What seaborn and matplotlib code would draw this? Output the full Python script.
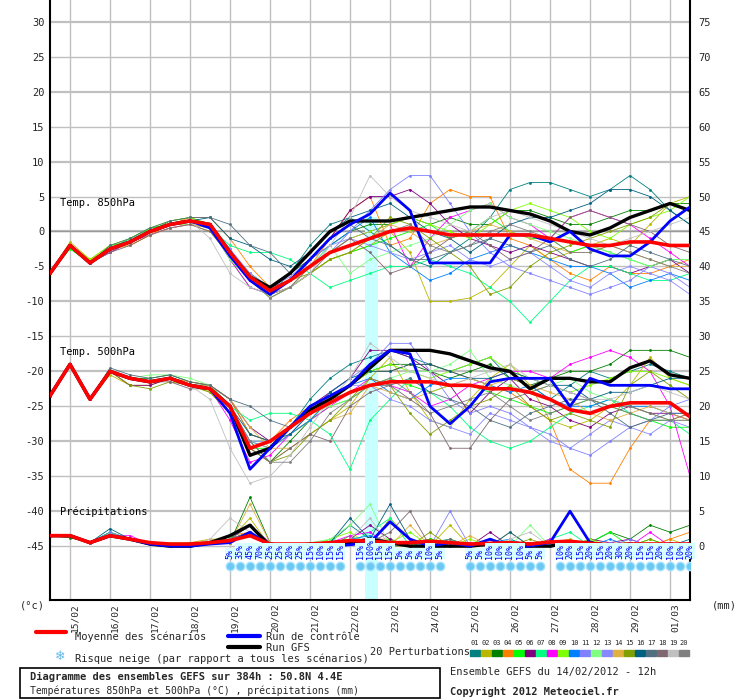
import numpy as np
import pandas as pd
import matplotlib
matplotlib.use("Agg")
import matplotlib.pyplot as plt
import seaborn as sns
from matplotlib.patches import Rectangle

sns.set_theme(style="white")
plt.rcParams['font.family'] = ['DejaVu Sans Mono']

hours = list(range(0, 385, 12))
dates = ["15/02","16/02","17/02","18/02","19/02","20/02","21/02","22/02","23/02",
         "24/02","25/02","26/02","27/02","28/02","29/02","01/03"]

mean850 = [-6,-2,-4.5,-2.5,-1.5,0,1,1.5,1,-3,-6.5,-8.5,-7,-5,-3,-2,-1,0,0.5,0,-0.5,-0.5,-0.5,-0.5,-0.5,-1,-1.5,-2,-2,-1.5,-1.5,-2,-2]
gfs850 = [-6,-2,-4.5,-2.5,-1.5,0,1,1.5,1,-3,-6.5,-8,-6,-3,0,1.5,1.5,1.5,2,2.5,3,3.5,3.5,3,2.5,1.5,0,-0.5,0.5,2,3,4,3]
ctrl850 = [-6,-2,-4.5,-2.5,-1.5,0,1,1.5,0.5,-3.5,-7,-9,-7,-4,-1,1,2.5,5.5,3,-4.5,-4.5,-4.5,-4.5,-0.5,-0.5,-1.5,0,-2.5,-3.5,-3.5,-1.5,1.5,3.5]

p850 = [
[-6,-2,-4.5,-2.5,-1,0.5,1,1.5,1,-2.5,-7,-9,-6,-2,1,2,0,-2,-4,-5,-3,-1,2,6,7,7,6,5,6,8,6,3,1],
[-6,-1.5,-4,-2,-1.5,0,1,1,0,-3.5,-7,-9.5,-8,-6,-4,-3,-2,0,-3,-10,-10,-9.5,-8,-5,-2,-4,-3,-2,-1,-2,1,4,5],
[-6,-2,-4.5,-3,-1.5,0,1.5,2,1,-3,-6,-8,-6,-4,-2,0,1,1,2,1,2,1,1,3,3,2,1,1,2,3,3,4,4],
[-6,-2,-4,-2.5,-2,-0.5,1,2,2,-1,-5,-8,-7,-5,-1,3,5,-2,-1,4,6,5,5,-1,-2,-4,-6,-7,-5,-6,-6,-5,-4],
[-6,-2.5,-4.5,-2,-1.5,0.5,1,1.5,0.5,-4,-8,-9,-8,-6,-4,-3,-2,-1,0,1,-1,0,2,0,-1,-1,-3,-2,-3,-4,-5,-4,-4],
[-6,-2,-4.5,-2.5,-1.5,0,1,1.5,1,-3,-7,-9,-7,-4,-1,3,5,5,6,4,1,-1,-2,-3,-2,-3,-4,-5,-5,-6,-5,-4,-6],
[-6,-2,-4.5,-2.5,-1,0,1,1.5,0.5,-2,-3,-3,-4,-6,-8,-7,-6,-5,-5,-4,-5,-6,-8,-10,-13,-10,-7,-5,-5,-6,-7,-7,-6],
[-6,-2,-4.5,-3,-1.5,-0.5,0.5,1,0.5,-4,-8,-9,-8,-5,-3,-1,0,1,-5,-1,2,3,4,2,1,-1,2,3,2,1,-1,-3,-5],
[-6,-2,-4,-2,-1,0.5,1.5,2,1,-3,-6,-9.5,-8,-5,-3,-1,0,1,2,1,0,-1,1,3,4,3,2,0,-1,1,2,3,5],
[-6,-2,-4.5,-2.5,-1.5,0,1,1.5,0.5,-3.5,-7,-8,-7,-5,-2,0,2,-3,-5,-7,-6,-4,-3,-2,-3,-4,-5,-5,-6,-8,-7,-6,-7],
[-6,-2,-4.5,-2.5,-1.5,0,1,1.5,1,-3,-6.5,-8.5,-7,-5,-3,0,3,6,8,8,4,0,-3,-5,-6,-7,-8,-9,-8,-7,-5,-6,-8],
[-6,-2,-4.5,-2.5,-1.5,0,1,1,0.5,-4,-7,-9,-7,-5,-2,-6,-4,-3,-2,-1,1,3,4,2,1,0,-1,-2,-3,-4,-5,-4,-4],
[-6,-2,-4.5,-2.5,-1.5,0,1,1.5,1,-2.5,-6,-8,-6.5,-4,-2,-1,-2,-3,-4,-3,-2,-4,-5,-4,-3,-5,-7,-8,-6,-5,-6,-7,-9],
[-6,-2,-4.5,-2.5,-2,-0.5,0.5,1,0.5,-3.5,-7,-9,-8,-6,-4,-3,-1,1,0,-2,-1,0,1,0,-1,-2,-3,-3,-2,-3,-4,-5,-5],
[-6,-2,-4.5,-2.5,-1.5,0,1,1.5,1,-3,-6.5,-9,-7,-6,-4,-3,-1,2,1,-1,-3,-5,-9,-8,-5,-3,-2,-1,0,1,2,4,3],
[-6,-2,-4.5,-2.5,-1.5,0,1,1.5,2,-1,-2,-4,-5,-3,0,2,3,4,2,0,-1,-3,-1,1,2,2,3,4,6,6,5,3,1],
[-6,-2,-4.5,-2,-1,0.5,1.5,2,2,1,-2,-3,-6,-4,-1,1,-1,-2,-4,-4,-3,-2,-1,-2,-3,-2,-4,-5,-4,-2,-3,-4,-5],
[-6,-2,-4.5,-3,-2,-0.5,0.5,1,0,-3.5,-7,-9,-8,-6,-3,-1,-3,-6,-5,-3,-1,0,-2,-4,-3,-1,2,3,2,1,0,-2,-3],
[-6,-2,-4.5,-2.5,-1.5,0,1,1.5,-1,-6,-8,-9,-8,-6,-2,2,8,5,3,2,1,0,2,3,2,1,0,-1,-2,-1,0,1,2],
[-6,-2,-4.5,-2.5,-1.5,0,1,1.5,1,-3,-7,-9.5,-8,-5,-3,-2,-1,0,1,-2,-3,-2,0,1,0,-1,-3,-3,-2,-3,-4,-5,-6],
]

mean500 = [-23.5,-19,-24,-20,-21,-21.5,-21,-22,-22.5,-25,-31,-30,-28,-26,-24.5,-23,-22,-21.5,-21.5,-21.5,-22,-22,-22.5,-22.5,-23,-24,-25.5,-26,-25,-24.5,-24.5,-24.5,-26.5]
gfs500 = [-23.5,-19,-24,-20,-21,-21.5,-21,-22,-22.5,-25,-32,-31,-28,-25.5,-24,-22,-19.5,-17,-17,-17,-17.5,-18.5,-19.5,-20,-22.5,-21,-21,-21.5,-21.5,-19.5,-18.5,-20.5,-21]
ctrl500 = [-23.5,-19,-24,-20,-21,-21.5,-21,-22,-22.5,-26,-34,-31,-28,-25,-23.5,-22,-19,-17,-17.5,-25,-27.5,-25,-21.5,-21,-21,-21,-25,-21,-22,-22,-22,-22.5,-22.5]

p500 = [
[-23.5,-19,-24,-20,-21,-21.5,-21,-22,-22,-24,-29,-30,-28,-24,-21,-19,-18,-17,-18,-19,-20,-19,-18,-21,-22,-24,-22,-20,-21,-20,-19,-20,-21],
[-23.5,-19,-24,-20.5,-22,-22,-21,-22,-23,-26,-31,-33,-31,-29,-27,-25,-21,-18,-23,-27,-28,-24,-21,-19,-22,-27,-28,-27,-25,-22,-18,-21,-22],
[-23.5,-19,-24,-20,-21,-21,-20.5,-21.5,-22,-25,-30,-33,-30,-27,-24,-22,-20,-19,-19,-20,-21,-20,-19,-21,-22,-21,-20,-20,-19,-17,-17,-17,-18],
[-23.5,-19,-24,-20,-21,-21.5,-21,-21.5,-22,-24,-29,-30,-27,-25,-24,-22,-20,-20,-19,-19,-20,-21,-22,-23,-25,-27,-34,-36,-36,-31,-27,-27,-26],
[-23.5,-19,-24,-20,-21,-21.5,-21,-22,-22.5,-25,-31,-31,-29,-27,-25,-24,-22,-21,-22,-23,-22,-22,-23,-24,-25,-26,-25,-24,-25,-26,-27,-28,-28],
[-23.5,-19,-24,-20,-22,-22,-21,-22,-22,-24,-28,-30,-28,-25,-23,-21,-17,-17,-18,-20,-22,-26,-23,-21,-24,-25,-27,-28,-26,-25,-26,-26,-27],
[-23.5,-19,-24,-20,-21,-21.5,-21,-22,-22,-25,-27,-26,-26,-27,-29,-34,-27,-24,-21,-23,-25,-28,-30,-31,-30,-28,-26,-25,-24,-26,-27,-27,-29],
[-23.5,-19,-24,-20,-21,-21.5,-21,-22,-22.5,-27,-33,-32,-29,-27,-25,-23,-21,-22,-23,-25,-24,-22,-21,-20,-20,-21,-19,-18,-17,-18,-20,-25,-35],
[-23.5,-19,-24,-20,-21,-21.5,-21,-22,-22,-25,-30,-31,-29,-27,-24,-22,-20,-19,-20,-21,-20,-19,-18,-20,-21,-22,-23,-22,-21,-20,-20,-21,-22],
[-23.5,-19,-24,-20,-21,-21.5,-21,-22,-22.5,-26,-32,-31,-29,-27,-24,-22,-21,-23,-24,-22,-21,-21,-22,-23,-22,-24,-25,-25,-24,-25,-25,-26,-26],
[-23.5,-19,-24,-20,-21,-21.5,-21,-22,-22,-25,-30,-31,-29,-26,-23,-21,-19,-16,-16,-20,-24,-26,-25,-26,-28,-29,-31,-32,-30,-28,-27,-25,-24],
[-23.5,-19,-24,-20,-21,-20.5,-20.5,-21,-22,-25,-30,-30,-28,-26,-25,-24,-22,-21,-20,-20,-19,-17,-21,-22,-23,-22,-21,-23,-24,-25,-26,-27,-27],
[-23.5,-19,-24,-20,-21,-21.5,-21,-22,-22.5,-25,-30,-30,-28,-26,-24,-22,-22,-24,-25,-27,-28,-29,-26,-27,-28,-30,-31,-29,-27,-28,-29,-27,-28],
[-23.5,-19,-24,-20,-21,-21.5,-21,-22,-22,-24,-28,-31,-31,-29,-27,-26,-22,-23,-24,-23,-22,-21,-22,-21,-22,-23,-24,-26,-27,-26,-25,-26,-27],
[-23.5,-19,-24,-20,-22,-22.5,-21.5,-22,-23,-26,-31,-33,-32,-29,-27,-24,-21,-22,-26,-29,-27,-25,-24,-22,-25,-27,-26,-27,-28,-22,-20,-22,-24],
[-23.5,-19,-24,-20,-21,-21.5,-21,-22,-22.5,-25,-29,-30,-29,-26,-23,-21,-20,-20,-19,-19,-20,-21,-21,-20,-21,-22,-22,-24,-23,-23,-22,-21,-21],
[-23.5,-19,-24,-19.5,-20.5,-21,-20.5,-21.5,-22,-24,-25,-27,-28,-26,-24,-23,-22,-22,-21,-23,-24,-25,-27,-28,-26,-25,-24,-24,-26,-28,-27,-26,-26],
[-23.5,-19,-24,-20,-21,-21.5,-21.5,-22.5,-22.5,-26,-31,-33,-31,-29,-30,-25,-23,-22,-24,-26,-31,-31,-27,-24,-23,-22,-23,-24,-25,-25,-26,-27,-27],
[-23.5,-19,-24,-20,-21,-21.5,-21,-22,-24,-31,-36,-35,-32,-28,-24,-21,-16,-18,-20,-21,-22,-21,-20,-19,-21,-22,-23,-24,-24,-23,-22,-23,-24],
[-23.5,-19,-24,-20,-21,-21.5,-21,-22,-22.5,-25,-30,-33,-33,-30,-26,-24,-22,-21,-23,-26,-25,-24,-23,-25,-27,-26,-25,-24,-25,-26,-27,-27,-26],
]

meanpr = [1.5,1.5,0.5,1.5,1,0.5,0.3,0.3,0.5,0.8,1.5,0.3,0.3,0.3,0.5,0.8,0.7,0.5,0.5,0.7,0.5,0.3,0.4,0.5,0.3,0.6,0.7,0.4,0.2,0.3,0.3,0.3,0.3]
ctrlpr = [1.5,1.5,0.5,1.5,1,0.3,0,0,0.3,0.5,2,0,0,0,0,0.2,0.5,3.5,1,0,0.5,0,1,0,0,0.5,5,0.5,0,0,0,0,0]
gfspr = [1.5,1.5,0.5,1.5,1,0.3,0,0,0.5,1.5,3,0,0,0,0,0.5,1,0.5,0,0,0,0,0.3,0,0,0,0.5,0.5,0,0,0,0,0]
ppr = [
[1.5,1.5,0.5,2,1,0.3,0,0,0.5,1,2,0.2,0,0,0.5,3,1,0.5,0,0.5,1,0,0,0.5,0,1,0,0,0.5,0,0,0,0],
[1.5,1.5,0.5,1.5,1,0.5,0,0.5,1,1,4,0,0,0,0.5,1,0,4,1,0,3,0,1,0,0,0.5,1,0,0,0,0,1,0],
[1.5,1.2,0.5,1.5,1,0.3,0,0,0.5,0.5,7,0.5,0,0,0.5,1,0.5,0,0.5,1,0,0,1,0,0,0.5,0,0.5,2,1,3,2,3],
[1.5,1.5,0.5,1.5,1,0.3,0,0.3,0.5,1.5,2,0,0,0,0,0.5,1,1,0,0.5,0,0,0,0,0.5,0.5,0,0,0,0.5,0,1,2],
[1.5,1.5,0.5,2,1,0.3,0,0.5,0.5,1,3,0.5,0,0.5,0,1.5,0,1,0,1,0.5,0,0,1,0,0,0,0.5,2,0,1,0,0],
[1.5,1.5,0.5,1.5,1,0.5,0,0,0.5,0.5,2,0,0,0,0.5,1,3,1,0,0.5,0,0,2,0,0,0.5,0,1,0.5,1,0,0,0.5],
[1.5,1.5,0.5,1.5,1,0.3,0,0,0.5,1,2,0.5,0,0,1,0.5,2,4,0,0,1,0,0,0.5,0,1,2,0,0,0,0.5,0,0],
[1.5,1.5,0.5,1.5,1.5,0.3,0,0.5,0.5,1,3,0.5,0,0,0.5,1.5,2,0,0.5,0,0,0.5,0,0,0,1,0,0,0.5,0,2,0,0],
[1.5,1.5,0.5,1.5,1,0.3,0.5,0.5,0.5,1,2,0.5,0,0,1,2,0,0.5,2,0,0,1,0,0,0.5,0,0,1,0,0,0,0,0.5],
[1.5,1.5,0.5,1.5,1,0.3,0,0,0.5,1,2,0,0,0,0.5,1,1.5,0.5,0,0.5,0,0,0.5,1,0,0,0.5,0,1,0,0,0.5,0],
[1.5,1.5,0.5,2,1,0.3,0,0,0.5,0.5,2,0,0,0,0,1,1,0,0,0,5,0,0,0,0.5,0,0,0,0,1,0,0,0],
[1.5,1.5,0.5,1.5,1,0.3,0,0,0.5,1.5,3,0,0,0.5,1,3,6,0,0.5,0,0,0,1,0,3,0,0,0.5,0,0,0.5,0,0],
[1.5,1.5,0.5,1.5,1,0.3,0,0.3,0.5,1,2,0,0,0,0,0.5,0.5,0,0.5,0,0.5,0,0,0,0,0.5,0,0,0.5,0,0,0,0],
[1.5,1.5,0.5,1.5,1,0.3,0,0,1,0.5,6,0.5,0,0,0,1,0.5,0,3,0,0,1.5,0,2,0,0,0.5,0,0,0.5,0,0,0.5],
[1.5,1.5,0.5,1.5,1,0.3,0,0.5,0.5,1,2,0,0,0,0,1,0.5,0,0,2,0,0,0.5,0,1,0,0,0.5,0,0,1,0,0],
[1.5,1.5,0.5,2.5,1,0.3,0,0,0.5,1,2,0.5,0,0.5,0.5,4,1,6,1,0,0.5,0,0,2,0,0,0,0,0,0.5,0,0,1],
[1.5,1.5,0.5,1.5,1,0.5,0,0,0.5,1,3,0,0,0,0,0.5,1,0,0.5,0,0,0,1,0,0.5,0,0,0,0,0,0,0.5,0],
[1.5,1.5,0.5,1.5,1,0.3,0,0,0.5,1,2,0,0,0,0,0.5,0.5,2,5,0,1,0,0,0,0.5,0,0.5,0,0,0,0,0,0],
[1.5,1.5,0.5,1.5,1,0.3,0,0,1,4,2,0,0,0,0.5,1,4,0,0.5,0,0,0,0,1,2,0,0,0,0,0,0.5,0,0],
[1.5,1.5,0.5,1.5,1,0.3,0,0,0.5,1,2,0,0,0,0.5,0.5,0,0.5,0,0,0,0,0.5,0,0,0,0.5,0,0,0,0,0,0.5],
]

snow_idx = list(range(18, 30)) + list(range(31, 40)) + [42] + list(range(43, 50)) + list(range(51, 65))
snow_pct = [5,35,45,70,25,25,20,25,15,10,15,15,
            15,100,15,15,5,5,5,10,5,
            5,
            5,10,10,10,10,5,5,
            10,20,15,20,15,20,30,20,15,15,20,10,10,20]

pert_colors = ["#008080","#b8b800","#008000","#ff8000","#00ff00","#800080","#00ff80","#ff00ff",
               "#80ff00","#0080ff","#8080ff","#80ff80","#8888ff","#e0b040","#80a000","#006080",
               "#507080","#806870","#c0c0c0","#808080"]

W, H = 740, 700
fig = plt.figure(figsize=(W/100, H/100), dpi=100)
ax = fig.add_axes([50/W, 1-600/H, 640/W, 600/H])
ax.set_xlim(0, 384)
ax.set_ylim(-52.7, 33.1)

for v in range(-45, 35, 5):
    ax.axhline(v, color="#c0c0c0", lw=1.6 if v % 10 == 0 else 1.0, zorder=0)
day_pos = [12 + 24*k for k in range(16)]
for d in day_pos:
    ax.axvline(d, color="#c0c0c0", lw=1.0, zorder=0)
ax.axhline(0, color="#999999", lw=1.0, zorder=0.5)

ax.fill_between([189, 197], -52.7, 2, color="#c8ffff", zorder=1, lw=0)

def draw(vals, color, lw, marker=True, z=2, offset=0.0):
    y = [v + offset for v in vals]
    sns.lineplot(x=hours, y=y, ax=ax, color=color, lw=lw, zorder=z,
                 marker="o" if marker else None, markersize=2.0, markeredgewidth=0,
                 estimator=None, legend=False)

for i, c in enumerate(pert_colors):
    draw(p850[i], c, 0.6)
    draw(p500[i], c, 0.6)
    draw(ppr[i], c, 0.6, offset=-45)

for vals, off in [(gfs850, 0), (gfs500, 0), (gfspr, -45)]:
    draw(vals, "black", 2.4, marker=False, z=3, offset=off)
for vals, off in [(ctrl850, 0), (ctrl500, 0), (ctrlpr, -45)]:
    draw(vals, "#0000ff", 2.0, marker=False, z=4, offset=off)
for vals, off in [(mean850, 0), (mean500, 0), (meanpr, -45)]:
    draw(vals, "#ff0000", 2.6, marker=False, z=5, offset=off)

ax.text(6, 3.6, "Temp. 850hPa", fontsize=7.5, color="black", zorder=6)
ax.text(6, -17.6, "Temp. 500hPa", fontsize=7.5, color="black", zorder=6)
ax.text(6, -40.6, "Précipitations", fontsize=7.5, color="black", zorder=6)

for j, p in zip(snow_idx, snow_pct):
    h = j * 6
    ax.plot(h, -47.9, "o", color="#6cc8f0", markersize=6, markeredgecolor="#a0e0ff", zorder=6)
    ax.text(h, -46.8, f"{p}%", rotation=90, ha="center", va="bottom", fontsize=6,
            color="#0000ff", zorder=6,
            bbox=dict(boxstyle="square,pad=0.05", fc="#d8ffff", ec="none"))

ax.set_xticks([d + 3 for d in day_pos])
ax.set_xticklabels(dates, rotation=90, fontsize=6.8)
ax.set_yticks(range(-45, 31, 5))
ax.set_yticklabels([str(v) for v in range(-45, 31, 5)], fontsize=7.5)
ax.tick_params(axis="x", length=0, pad=2)
ax.tick_params(axis="y", length=0, pad=4)
ax2 = ax.twinx()
ax2.set_ylim(ax.get_ylim())
ax2.set_yticks(range(-45, 31, 5))
ax2.set_yticklabels([str(v + 45) for v in range(-45, 31, 5)], fontsize=7.5)
ax2.tick_params(length=0, pad=6)
for a in (ax, ax2):
    for s in a.spines.values():
        s.set_visible(False)
for side in ("left", "right", "bottom"):
    ax.spines[side].set_visible(True)
    ax.spines[side].set_color("black")
    ax.spines[side].set_linewidth(1.5)

def ft(px, py, s, **kw):
    fig.text(px/W, 1-py/H, s, va="center", **kw)

ft(20, 606, "(°c)", fontsize=7.5)
ft(712, 606, "(mm)", fontsize=7.5)

fig.add_artist(plt.Line2D([36/W, 66/W], [1-632/H]*2, color="#ff0000", lw=3))
ft(75, 637, "Moyenne des scénarios", fontsize=7.5)
fig.add_artist(plt.Line2D([228/W, 260/W], [1-636/H]*2, color="#0000ff", lw=3))
ft(266, 637, "Run de contrôle", fontsize=7.5)
fig.add_artist(plt.Line2D([228/W, 260/W], [1-647/H]*2, color="black", lw=3))
ft(266, 648, "Run GFS", fontsize=7.5)
ft(55, 657, "❄", fontsize=9, color="#60b8e8", family=["DejaVu Sans"])
ft(75, 659, "Risque neige (par rapport a tous les scénarios)", fontsize=7.5)
ft(370, 652, "20 Perturbations", fontsize=7.5)
for i, c in enumerate(pert_colors):
    x0 = 470 + i*11
    fig.add_artist(Rectangle((x0/W, 1-656/H), 10/W, 6/H, color=c))
    ft(x0 + 5, 643, f"{i+1:02d}", fontsize=5, ha="center")

fig.add_artist(Rectangle((20/W, 1-698/H), 420/W, 30/H, fill=False, ec="black", lw=1.2))
ft(30, 677, "Diagramme des ensembles GEFS sur 384h : 50.8N 4.4E", fontsize=7.5, weight="bold")
ft(30, 691, "Températures 850hPa et 500hPa (°C) , précipitations (mm)", fontsize=7)
ft(450, 672, "Ensemble GEFS du 14/02/2012 - 12h", fontsize=7.5)
ft(450, 692, "Copyright 2012 Meteociel.fr", fontsize=7.5, weight="bold")

fig.savefig("out.png", dpi=100, facecolor="white")
